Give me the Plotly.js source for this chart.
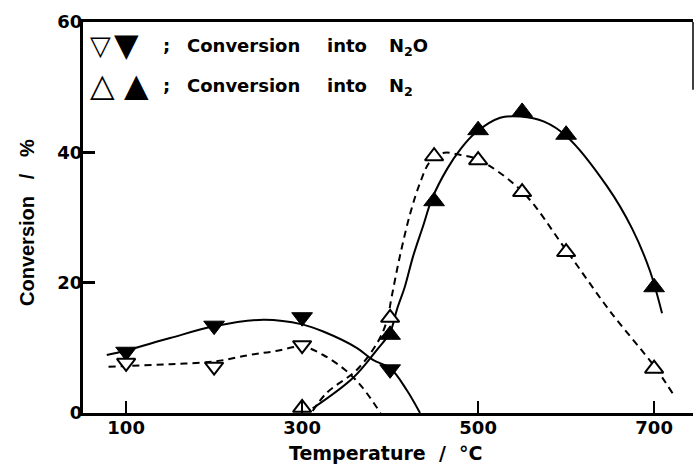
<!DOCTYPE html>
<html>
<head>
<meta charset="utf-8">
<script src="https://cdn.plot.ly/plotly-3.0.1.min.js"></script>
<style>html,body{margin:0;padding:0;background:#fff;}</style>
</head>
<body>
<div id="chart" style="width:694px;height:468px;"></div>
<script>
// ---- Measured points ----
const n2oClosedT = [100, 200, 300, 400];
const n2oClosed  = [9.4, 13.4, 14.7, 6.7];
const n2oOpenT   = [100, 200, 300];
const n2oOpen    = [7.7, 7.1, 10.4];
const n2OpenT    = [300, 400, 450, 500, 550, 600, 700];
const n2Open     = [0.8, 14.6, 39.4, 38.8, 33.9, 24.7, 6.8];
const n2ClosedT  = [400, 450, 500, 550, 600, 700];
const n2Closed   = [12.0, 32.5, 43.4, 46.2, 42.7, 19.3];

// ---- Hand-drawn fit curves ----
const n2oFitT  = [78, 100, 150, 200, 256, 300, 324, 362, 381, 400, 419, 434];
const n2oFit   = [8.9, 9.6, 11.5, 13.3, 14.3, 13.6, 12.5, 10.0, 8.1, 6.9, 3.5, 0];
const n2oDashT = [80, 100, 150, 200, 240, 270, 300, 324, 349, 368, 389];
const n2oDash  = [7.1, 7.2, 7.5, 7.9, 8.9, 9.5, 10.2, 8.9, 6.6, 4.0, 0];
const n2DashT  = [312, 328, 362, 386, 396, 402, 411, 423, 434, 445, 460, 480, 500, 550, 600, 650, 700, 722];
const n2Dash   = [0.3, 3.1, 6.6, 10.9, 14.0, 18.0, 24.0, 30.7, 35.3, 38.5, 39.9, 39.6, 38.9, 34.0, 25.0, 15.6, 7.2, 2.8];
const n2FitT   = [312, 358, 385, 400, 408, 417, 426, 437, 448, 465, 480, 497, 525, 548, 575, 601, 647, 675, 695, 709];
const n2Fit    = [0.7, 5.4, 9.7, 12.4, 16.0, 19.5, 24.0, 28.5, 33.0, 37.5, 40.5, 43.0, 45.3, 45.5, 44.7, 42.4, 34.7, 28.3, 21.9, 15.3];

// ---- Axis ticks ----
const xTickVals = [100, 300, 500, 700];
const xTickText = ['100', '300', '500', '700'];
const yTickVals = [0, 20, 40, 60];
const yTickText = ['0', '20', '40', '60'];

const FONT = 'DejaVu Sans';
const solid = {color: '#000', width: 2, shape: 'spline'};
const dashed = {color: '#000', width: 2, shape: 'spline', dash: '7px,5px'};

const traces = [
  {x: n2oFitT, y: n2oFit, mode: 'lines', line: solid},
  {x: n2oDashT, y: n2oDash, mode: 'lines', line: dashed},
  {x: n2FitT, y: n2Fit, mode: 'lines', line: solid},
  {x: n2DashT, y: n2Dash, mode: 'lines', line: dashed},
  {x: n2oClosedT, y: n2oClosed, mode: 'markers', cliponaxis: false,
   marker: {symbol: 'triangle-down', size: 18, color: '#000', line: {color: '#000', width: 1}}},
  {x: n2oOpenT, y: n2oOpen, mode: 'markers', cliponaxis: false,
   marker: {symbol: 'triangle-down', size: 16, color: '#fff', line: {color: '#000', width: 2}}},
  {x: n2OpenT, y: n2Open, mode: 'markers', cliponaxis: false,
   marker: {symbol: 'triangle-up', size: 16, color: '#fff', line: {color: '#000', width: 2}}},
  {x: n2ClosedT, y: n2Closed, mode: 'markers', cliponaxis: false,
   marker: {symbol: 'triangle-up', size: 18, color: '#000', line: {color: '#000', width: 1}}}
];

// pixel helpers for text placement
const L = 83, T = 22, W = 610, H = 391;
function ann(text, px, py, size, anchor, angle, family) {
  return {
    text: text, xref: 'paper', yref: 'paper',
    x: (px - L) / W, y: (T + H - py) / H,
    xanchor: anchor || 'left', yanchor: 'middle', showarrow: false,
    textangle: angle || 0,
    font: {family: family || FONT, size: size, color: '#000', weight: 'bold'}
  };
}
const sp = '\u00a0';
const annotations = [
  ann('\u25BD', 100.5, 45, 27, 'center'),
  ann('\u25BC', 126, 45, 32, 'center'),
  ann(';', 166, 45, 18, 'center'),
  ann('Conversion', 185, 45, 18),
  ann('into', 325, 45, 18),
  ann('N<sub>2</sub>O', 387, 47, 18),
  ann('\u25B3', 102.5, 85, 32, 'center'),
  ann('\u25B2', 136, 85, 32, 'center'),
  ann(';', 166, 85, 18, 'center'),
  ann('Conversion', 185, 85, 18),
  ann('into', 325, 85, 18),
  ann('N<sub>2</sub>', 387, 87, 18),
  ann('Temperature' + sp + sp + '/' + sp + sp + '°C', 386, 453, 19, 'center'),
  ann('Conversion' + sp + sp + sp + '/' + sp + sp + sp + '%', 27, 223, 20, 'center', -90, 'Liberation Sans')
];

const layout = {
  width: 694, height: 468,
  margin: {l: L, r: 694 - L - W, t: T, b: 468 - T - H},
  paper_bgcolor: '#fff', plot_bgcolor: '#fff',
  showlegend: false,
  xaxis: {
    range: [51, 51 + W / 0.88], tickvals: xTickVals, ticktext: xTickText,
    ticks: 'inside', ticklen: 12, tickwidth: 2.5, tickcolor: '#000',
    ticklabelstandoff: -4,
    showline: true, linewidth: 3, linecolor: '#000', mirror: true,
    showgrid: false, zeroline: false,
    tickfont: {family: FONT, size: 18, color: '#000', weight: 'bold'}
  },
  yaxis: {
    range: [0, 60], tickvals: yTickVals, ticktext: yTickText,
    ticks: 'inside', ticklen: 12, tickwidth: 2.5, tickcolor: '#000',
    ticklabelstandoff: -6,
    showline: true, linewidth: 3, linecolor: '#000', mirror: false,
    showgrid: false, zeroline: false,
    tickfont: {family: FONT, size: 18, color: '#000', weight: 'bold'}
  },
  shapes: [
    {type: 'line', xref: 'paper', yref: 'y', x0: 1, x1: 1, y0: 60, y1: 49.6,
     line: {color: '#000', width: 1.5}}
  ],
  annotations: annotations
};

Plotly.newPlot('chart', traces, layout, {staticPlot: true, displayModeBar: false});
</script>
</body>
</html>
